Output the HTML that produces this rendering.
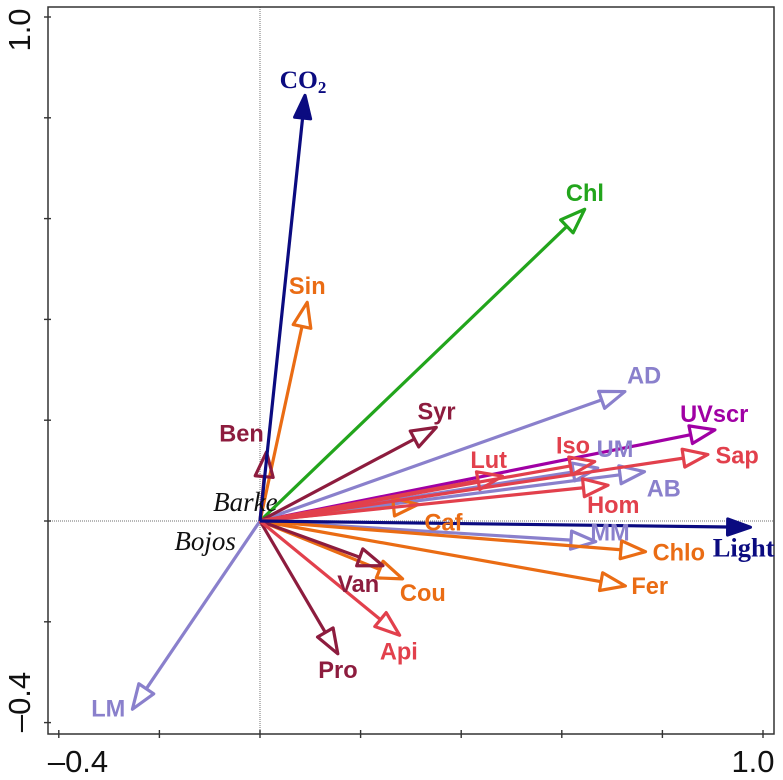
<!DOCTYPE html>
<html lang="en">
<head>
<meta charset="utf-8">
<title>RDA biplot</title>
<style>
  html, body { margin: 0; padding: 0; background: #fff; width: 783px; height: 780px; overflow: hidden; }
  svg { display: block; }
  .var { font-family: "Liberation Sans", sans-serif; font-weight: bold; font-size: 23.6px; }
  .env { font-family: "Liberation Serif", serif; font-weight: bold; }
  .site { font-family: "Liberation Serif", serif; font-style: italic; font-size: 27px; fill: #111; }
  .tick-label { font-family: "Liberation Sans", sans-serif; font-size: 31px; fill: #111; }
</style>
</head>
<body>
<svg id="chart" width="783" height="780" viewBox="0 0 783 780" xmlns="http://www.w3.org/2000/svg"></svg>
<script>
// ---- data ----
const arrowNames = ["Chl","UVscr","LM","AD","UM","AB","MM","Sin","Caf","Chlo","Fer","Cou","Ben","Syr","Van","Pro","Sap","Iso","Lut","Hom","Api","CO2","Light"];
const arrowX = [0.646,0.905,-0.254,0.726,0.672,0.765,0.668,0.094,0.315,0.767,0.727,0.284,0.013,0.351,0.245,0.155,0.891,0.666,0.4825,0.6925,0.278,0.0895,0.9755];
const arrowY = [0.619,0.181,-0.374,0.257,0.105,0.098,-0.041,0.4345,0.033,-0.061,-0.129,-0.115,0.1375,0.186,-0.089,-0.264,0.132,0.118,0.089,0.071,-0.227,0.845,-0.0125];
const siteNames = ["Barke","Bojos"];
const siteX = [-0.029,-0.109];
const siteY = [0.036,-0.042];
const xTicks = [-0.4,-0.2,0,0.2,0.4,0.6,0.8,1.0];
const yTicks = [-0.4,-0.2,0,0.2,0.4,0.6,0.8,1.0];
const xTickLabels = ["\u20130.4","1.0"];
const yTickLabels = ["\u20130.4","1.0"];

// ---- styling, separate from data ----
const NAVY="#0b0b80", GREEN="#22a51c", ORANGE="#ea6c14", MAROON="#8d1c3e", PERI="#8a80cc", RED="#e2404c", PURPLE="#a000a4";
const colors = {Chl:GREEN,UVscr:PURPLE,LM:PERI,AD:PERI,UM:PERI,AB:PERI,MM:PERI,Sin:ORANGE,Caf:ORANGE,Chlo:ORANGE,Fer:ORANGE,Cou:ORANGE,Ben:MAROON,Syr:MAROON,Van:MAROON,Pro:MAROON,Sap:RED,Iso:RED,Lut:RED,Hom:RED,Api:RED,CO2:NAVY,Light:NAVY};
const labelOffset = {CO2:[-2,-15],Chl:[0,-16],Sin:[0,-16],Ben:[-25,-18],Syr:[0,-16],AD:[19,-16],UVscr:[-1,-16],Sap:[29,1],Iso:[-22,-16],UM:[17,-19],AB:[19,17],Hom:[5,20],Lut:[-14,-16],Caf:[25,18],Light:[-7,21],MM:[14,-9],Chlo:[33,1],Fer:[24,0],Cou:[20,14],Van:[-25,18],Api:[-1,16],Pro:[0,16],LM:[-24,-1]};

const NS = "http://www.w3.org/2000/svg";
const svg = document.getElementById("chart");
const frame = {l:48, r:774, t:7, b:734};
function sx(v){ return 260 + v * 503; }
function sy(v){ return 521 - v * 504; }
function make(tag, attrs, parent){
  const el = document.createElementNS(NS, tag);
  for (const k in attrs) el.setAttribute(k, attrs[k]);
  (parent || svg).appendChild(el);
  return el;
}

// reference lines
const zeroX = make("line",{x1:sx(0),x2:sx(0),y1:frame.t,y2:frame.b,stroke:"#8a8a8a","stroke-width":1.2,"stroke-dasharray":"1 1"});


const zeroY = make("line",{x1:frame.l,x2:frame.r,y1:sy(0),y2:sy(0),stroke:"#8a8a8a","stroke-width":1.2,"stroke-dasharray":"1 1"});



// frame
const box = make("rect",{x:frame.l,y:frame.t,width:frame.r-frame.l,height:frame.b-frame.t,fill:"none",stroke:"#333","stroke-width":1.5});



// ticks
xTicks.forEach(function(v){
  const t = make("line",{x1:sx(v),x2:sx(v),y1:frame.b-4,y2:frame.b+4,stroke:"#333","stroke-width":1.4});
  
  
});
yTicks.forEach(function(v){
  const t = make("line",{x1:frame.l-4,x2:frame.l+3,y1:sy(v),y2:sy(v),stroke:"#333","stroke-width":1.4});
  
  
});

// tick labels
const xl0 = make("text",{x:78,y:772,"text-anchor":"middle",class:"tick-label"});
xl0.textContent = xTickLabels[0];


const xl1 = make("text",{x:753,y:772,"text-anchor":"middle",class:"tick-label"});
xl1.textContent = xTickLabels[1];


const yl0 = make("text",{transform:"translate(30,702) rotate(-90)","text-anchor":"middle",class:"tick-label"});
yl0.textContent = yTickLabels[0];


const yl1 = make("text",{transform:"translate(30,30) rotate(-90)","text-anchor":"middle",class:"tick-label"});
yl1.textContent = yTickLabels[1];



// arrows
arrowNames.forEach(function(name, i){
  const isEnv = colors[name] === NAVY;
  const x0 = sx(0), y0 = sy(0), x1 = sx(arrowX[i]), y1 = sy(arrowY[i]);
  const dx = x1 - x0, dy = y1 - y0, len = Math.hypot(dx, dy) || 1;
  const ux = dx / len, uy = dy / len;
  const tipInset = 0.3, baseInset = isEnv ? 23 : 25, headW = isEnv ? 8 : 9;
  const tx = x1 - ux * tipInset, ty = y1 - uy * tipInset;
  const bx = x1 - ux * baseInset, by = y1 - uy * baseInset;
  const g = make("g",{});
  
  
  const shaft = make("line",{x1:x0,y1:y0,x2:bx,y2:by,stroke:colors[name],"stroke-width":3.2},g);
  
  
  const pts = [tx+","+ty,(bx-uy*headW)+","+(by+ux*headW),(bx+uy*headW)+","+(by-ux*headW)].join(" ");
  const head = make("polygon",{points:pts,fill:isEnv?colors[name]:"none",stroke:colors[name],"stroke-width":3.2,"stroke-linejoin":"round"},g);
  
  
});

// arrow labels
arrowNames.forEach(function(name, i){
  const off = labelOffset[name];
  const cx = sx(arrowX[i]) + off[0], cy = sy(arrowY[i]) + off[1];
  const isEnv = colors[name] === NAVY;
  const t = make("text",{x:cx,y:cy+8,"text-anchor":"middle",fill:colors[name],class:isEnv?"env":"var"});
  if (isEnv) t.setAttribute("font-size", name === "CO2" ? "25.5" : "26.5");
  if (name === "CO2") {
    const a = make("tspan",{},t);
    a.textContent = "CO";
    const b = make("tspan",{"font-size":"17",dy:"5"},t);
    b.textContent = "2";
  } else {
    t.textContent = name;
  }
  
  
});

// site labels
siteNames.forEach(function(name, i){
  const t = make("text",{x:sx(siteX[i]),y:sy(siteY[i])+8,"text-anchor":"middle",class:"site"});
  t.textContent = name;
  
  
});
</script>
</body>
</html>
